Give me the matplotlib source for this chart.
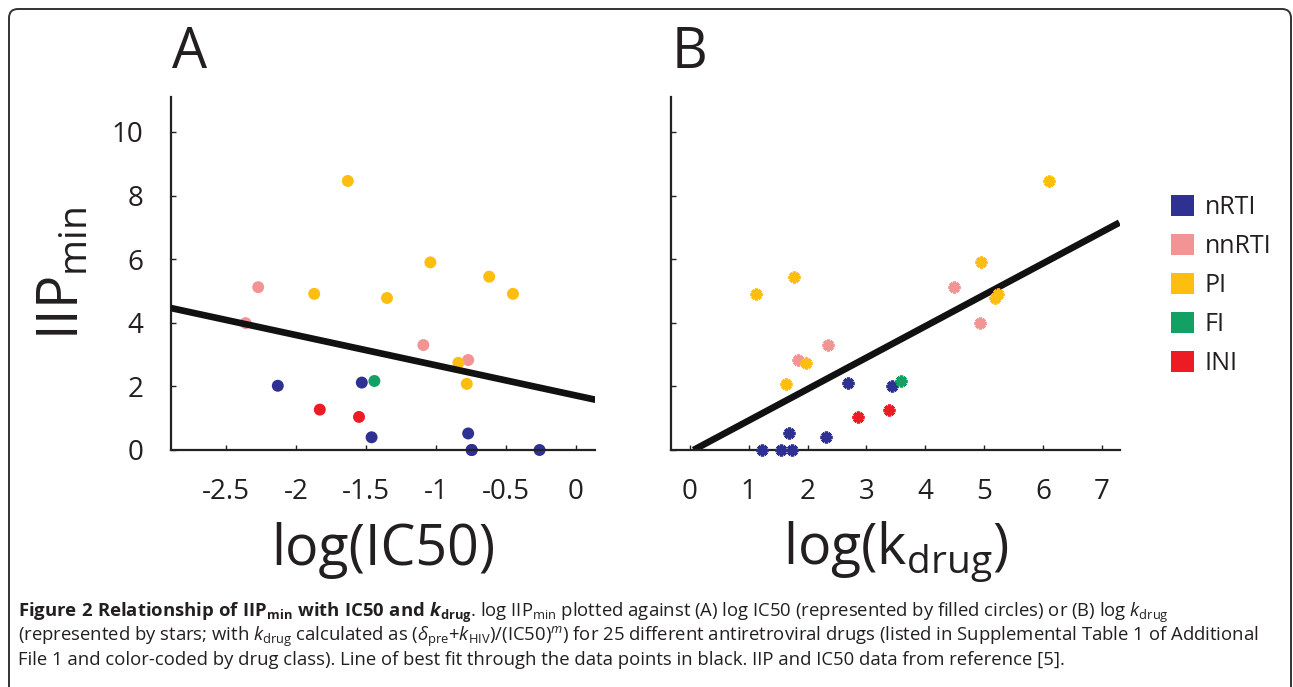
import matplotlib
matplotlib.use("Agg")
import matplotlib.pyplot as plt
from matplotlib.patches import Patch, FancyBboxPatch

plt.rcParams["font.family"] = ["Open Sans", "DejaVu Sans"]
plt.rcParams["axes.unicode_minus"] = False
plt.rcParams["mathtext.fontset"] = "custom"
plt.rcParams["mathtext.rm"] = "Open Sans"
plt.rcParams["mathtext.it"] = "Open Sans:italic"
plt.rcParams["mathtext.bf"] = "Open Sans:bold"
plt.rcParams["mathtext.bfit"] = "Open Sans:italic:bold"

# drug classes, colours
classes = ["nRTI", "nnRTI", "PI", "FI", "INI"]
colors = ["#2E3192", "#F39494", "#FDBE10", "#13A065", "#ED1C24"]

# log IIPmin per class (shared by both panels)
iip = {
    "nRTI": [2.02, 2.12, 0.40, 0.52, 0.0, 0.0, 0.0],
    "nnRTI": [5.12, 3.99, 3.30, 2.83],
    "PI": [8.46, 5.90, 5.45, 4.91, 4.91, 4.78, 2.74, 2.08],
    "FI": [2.17],
    "INI": [1.27, 1.04],
}
# panel A: log IC50
ic50 = {
    "nRTI": [-2.13, -1.53, -1.46, -0.77, -0.745, -0.745, -0.26],
    "nnRTI": [-2.27, -2.36, -1.09, -0.77],
    "PI": [-1.63, -1.04, -0.62, -0.45, -1.87, -1.35, -0.84, -0.78],
    "FI": [-1.44],
    "INI": [-1.83, -1.55],
}
# panel B: log k_drug
kdrug = {
    "nRTI": [3.44, 2.68, 2.31, 1.68, 1.22, 1.55, 1.73],
    "nnRTI": [4.48, 4.93, 2.34, 1.83],
    "PI": [6.10, 4.94, 1.77, 1.13, 5.24, 5.18, 1.98, 1.63],
    "FI": [3.59],
    "INI": [3.38, 2.85],
}
# best-fit lines (end points as drawn)
fit_a_x = [-2.90, 0.14]
fit_a_y = [4.47, 1.58]
fit_b_x = [0.06, 7.30]
fit_b_y = [0.00, 7.15]

xticks_a = [-2.5, -2, -1.5, -1, -0.5, 0]
xticklabels_a = ["-2.5", "-2", "-1.5", "-1", "-0.5", "0"]
xticks_b = [0, 1, 2, 3, 4, 5, 6, 7]
yticks = [0, 2, 4, 6, 8, 10]

fig = plt.figure(figsize=(12.93, 6.87), dpi=100)
axA = fig.add_axes([171 / 1293, 1 - 450 / 687, 424 / 1293, 353 / 687])
axB = fig.add_axes([671 / 1293, 1 - 450 / 687, 449 / 1293, 353 / 687])

for cls, col in zip(classes, colors):
    axA.scatter(ic50[cls], iip[cls], s=74, color=col, edgecolors="none",
                zorder=2, clip_on=False)
    axB.plot(kdrug[cls], iip[cls], ls="none", marker=(8, 2, 0), ms=8.5,
             mew=2.4, color=col, zorder=3, clip_on=False)

axA.plot(fit_a_x, fit_a_y, color="#111111", lw=4.8, zorder=3,
         solid_capstyle="butt")
axB.plot(fit_b_x, fit_b_y, color="#111111", lw=4.8, zorder=2,
         solid_capstyle="butt")

axA.set_xlim(-2.893, 0.136)
axB.set_xlim(-0.323, 7.31)
for ax in (axA, axB):
    ax.set_ylim(0, 11.1)
    ax.set_yticks(yticks)
    for s in ("top", "right"):
        ax.spines[s].set_visible(False)
    for s in ("left", "bottom"):
        ax.spines[s].set_linewidth(1.6)
        ax.spines[s].set_color("#222222")
    ax.tick_params(direction="in", length=3.5, width=1, labelsize=20,
                   pad=20, colors="#222222")
    ax.tick_params(labelcolor="#231f20")

axA.set_xticks(xticks_a, xticklabels_a)
axB.set_xticks(xticks_b)
axB.tick_params(axis="y", labelleft=False)

axA.set_xlabel("log(IC50)", fontsize=40, labelpad=12, color="#231f20")
axB.set_xlabel(r"log(k$_{\mathrm{drug}}$)", fontsize=40, labelpad=10,
               color="#231f20")
axA.set_ylabel(r"IIP$_{\mathrm{min}}$", fontsize=40, labelpad=14,
               color="#231f20")

fig.text(172 / 1293, 1 - 68 / 687, "A", fontsize=40, va="baseline",
         color="#231f20")
fig.text(672 / 1293, 1 - 68 / 687, "B", fontsize=40, va="baseline",
         color="#231f20")

handles = [Patch(facecolor=c, edgecolor="none") for c in colors]
fig.legend(handles, classes, loc="upper left",
           bbox_to_anchor=(1171 / 1293, 1 - 195 / 687), frameon=False,
           fontsize=18, handlelength=0.9, handleheight=0.9,
           handletextpad=0.45, labelspacing=0.56, borderpad=0,
           borderaxespad=0, labelcolor="#231f20")

cap1 = (r"$\mathbf{Figure\ 2\ Relationship\ of\ IIP}_{\mathbf{min}}"
        r"\mathbf{\ with\ IC50\ and\ }\mathbfit{k}_{\mathbf{drug}}$. "
        r"log IIP$_{\mathrm{min}}$ plotted against (A) log IC50 "
        r"(represented by filled circles) or (B) log $\mathit{k}_{\mathrm{drug}}$")
cap2 = (r"(represented by stars; with $\mathit{k}_{\mathrm{drug}}$ calculated as "
        r"($\delta_{\mathrm{pre}}$+$\mathit{k}_{\mathrm{HIV}}$)/(IC50)$^{\mathit{m}}$) "
        r"for 25 different antiretroviral drugs (listed in Supplemental Table 1 "
        r"of Additional")
cap3 = ("File 1 and color-coded by drug class). Line of best fit through the "
        "data points in black. IIP and IC50 data from reference [5].")
for txt, yb in zip([cap1, cap2, cap3], [617, 641, 665]):
    fig.text(18 / 1293, 1 - yb / 687, txt, fontsize=13.3, va="baseline",
             color="#231f20")

frame = FancyBboxPatch((0.09, -0.3), 12.82, 6.78 + 0.3,
                       boxstyle="round,pad=0,rounding_size=0.09",
                       transform=fig.dpi_scale_trans, facecolor="none",
                       edgecolor="#333333", lw=1.4)
fig.patches.append(frame)

fig.savefig("out.png", dpi=100)
